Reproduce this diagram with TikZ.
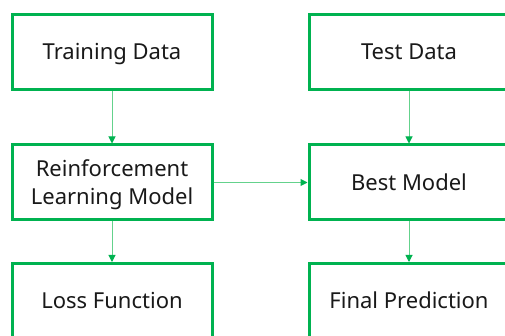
\documentclass[tikz,border=0pt]{standalone}
\usepackage{fontspec}
\setmainfont{Noto Sans}
\usetikzlibrary{arrows.meta}
\definecolor{boxgreen}{RGB}{0,178,80}
\definecolor{linegreen}{RGB}{100,210,140}
\begin{document}
\begin{tikzpicture}[x=1pt,y=-1pt,
  boxtext/.style={align=center, inner sep=0pt, font=\fontsize{22}{28}\selectfont, text=black!90},
  stepbox/.style={boxtext, draw=boxgreen, line width=3pt, fill=white, minimum width=200pt, minimum height=75pt},
  oneline/.style={text height=15.7pt, text depth=0pt},
  conn/.style={draw=linegreen, line width=1pt, -{Triangle[length=7pt,width=7pt,fill=boxgreen,color=boxgreen]}}]
\useasboundingbox (0,0) rectangle (505,336);
\clip (0,0) rectangle (505,336);
\node[stepbox,oneline] (train) at (112,52) {Training Data};
\node[stepbox,oneline] (test) at (409,52) {Test Data};
\node[stepbox] (rl) at (112,182.5) {};
\node[boxtext, anchor=base] (rltext) at (112,205) {Reinforcement\\Learning Model};
\node[stepbox,oneline] (best) at (409,182.5) {Best Model};
\node[stepbox,oneline] (loss) at (112,301) {Loss Function};
\node[stepbox,oneline] (final) at (409,301) {Final Prediction};
\draw[conn] (train) -- (rl);
\draw[conn] (test) -- (best);
\draw[conn] (rl) -- (best);
\draw[conn] (rl) -- (loss);
\draw[conn] (best) -- (final);
\end{tikzpicture}
\end{document}
